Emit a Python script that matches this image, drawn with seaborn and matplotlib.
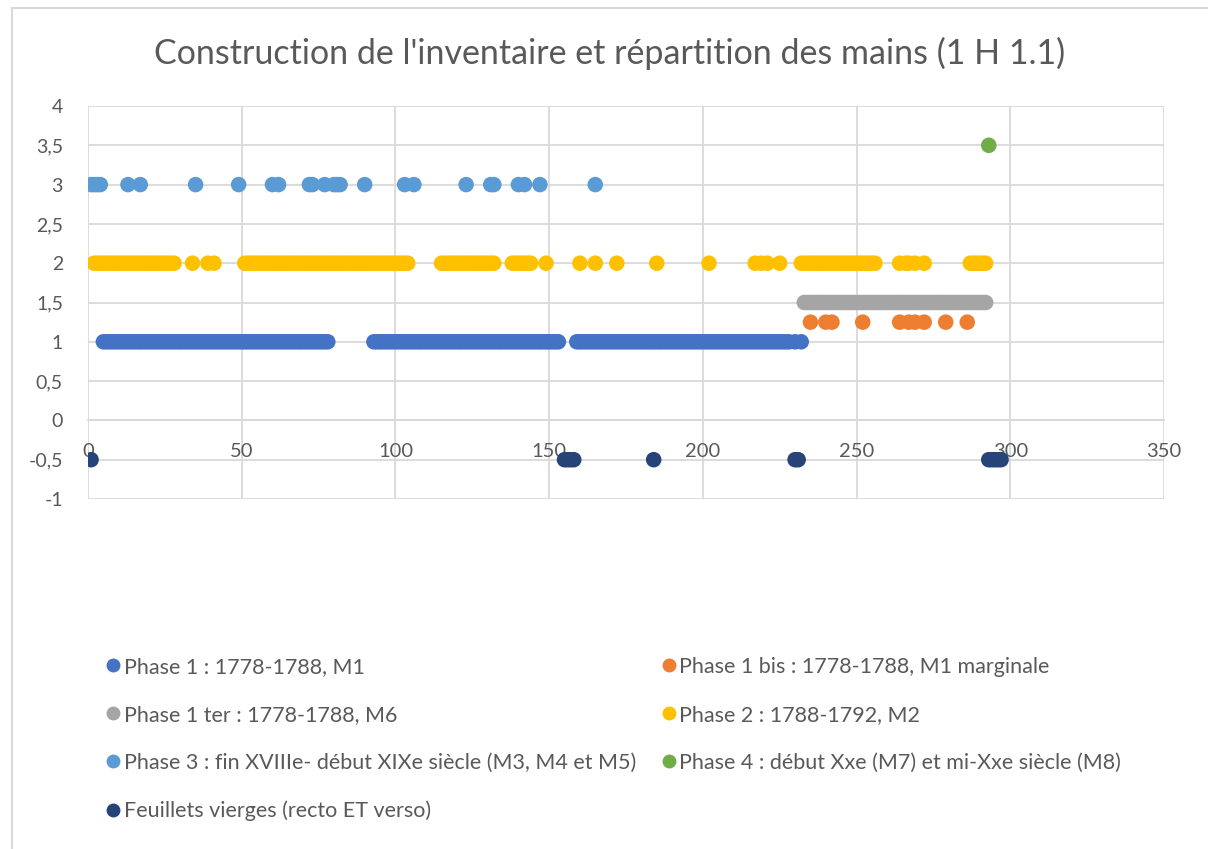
import pandas as pd
import matplotlib.pyplot as plt
from matplotlib.lines import Line2D
from matplotlib.patches import Rectangle
from matplotlib.ticker import FuncFormatter, MultipleLocator
import seaborn as sns

# numéros de folio, par série
phase1 = [5, 6, 7, 8, 9, 10, 11, 12, 13, 14, 15, 16, 17, 18, 19, 20, 21, 22, 23, 24, 25, 26, 27, 28, 29, 30,
          31, 32, 33, 34, 35, 36, 37, 38, 39, 40, 41, 42, 43, 44, 45, 46, 47, 48, 49, 50, 51, 52, 53, 54, 55,
          56, 57, 58, 59, 60, 61, 62, 63, 64, 65, 66, 67, 68, 69, 70, 71, 72, 73, 74, 75, 76, 77, 78,
          93, 94, 95, 96, 97, 98, 99, 100, 101, 102, 103, 104, 105, 106, 107, 108, 109, 110, 111, 112, 113,
          114, 115, 116, 117, 118, 119, 120, 121, 122, 123, 124, 125, 126, 127, 128, 129, 130, 131, 132, 133,
          134, 135, 136, 137, 138, 139, 140, 141, 142, 143, 144, 145, 146, 147, 148, 149, 150, 151, 152, 153,
          159, 160, 161, 162, 163, 164, 165, 166, 167, 168, 169, 170, 171, 172, 173, 174, 175, 176, 177, 178,
          179, 180, 181, 182, 183, 184, 185, 186, 187, 188, 189, 190, 191, 192, 193, 194, 195, 196, 197, 198,
          199, 200, 201, 202, 203, 204, 205, 206, 207, 208, 209, 210, 211, 212, 213, 214, 215, 216, 217, 218,
          219, 220, 221, 222, 223, 224, 225, 226, 227, 228, 230, 232]
phase1_bis = [235, 240, 242, 252, 264, 267, 269, 272, 279, 286]
phase1_ter = [233, 234, 235, 236, 237, 238, 239, 240, 241, 242, 243, 244, 245, 246, 247, 248, 249, 250, 251,
              252, 253, 254, 255, 256, 257, 258, 259, 260, 261, 262, 263, 264, 265, 266, 267, 268, 269, 270,
              271, 272, 273, 274, 275, 276, 277, 278, 279, 280, 281, 282, 283, 284, 285, 286, 287, 288, 289,
              290, 291, 292]
phase2 = [2, 3, 4, 5, 6, 7, 8, 9, 10, 11, 12, 13, 14, 15, 16, 17, 18, 19, 20, 21, 22, 23, 24, 25, 26, 27, 28,
          34, 39, 41,
          51, 52, 53, 54, 55, 56, 57, 58, 59, 60, 61, 62, 63, 64, 65, 66, 67, 68, 69, 70, 71, 72, 73, 74, 75,
          76, 77, 78, 79, 80, 81, 82, 83, 84, 85, 86, 87, 88, 89, 90, 91, 92, 93, 94, 95, 96, 97, 98, 99, 100,
          101, 102, 103, 104,
          115, 116, 117, 118, 119, 120, 121, 122, 123, 124, 125, 126, 127, 128, 129, 130, 131, 132,
          138, 139, 140, 141, 142, 143, 144, 149, 160, 165, 172, 185, 202, 217, 219, 221, 225,
          232, 233, 234, 235, 236, 237, 238, 239, 240, 241, 242, 243, 244, 245, 246, 247, 248, 249, 250, 251,
          252, 253, 254, 255, 256, 264, 266, 267, 269, 272, 287, 288, 289, 290, 291, 292]
phase3 = [1, 2, 3, 4, 13, 17, 35, 49, 60, 62, 72, 73, 77, 80, 81, 82, 90, 103, 106, 123, 131, 132,
          140, 142, 147, 165]
phase4 = [293]
vierges = [1, 155, 156, 157, 158, 184, 230, 231, 293, 294, 295, 296, 297]

series = ["Phase 1 : 1778-1788, M1",
          "Phase 1 bis : 1778-1788, M1 marginale",
          "Phase 1 ter : 1778-1788, M6",
          "Phase 2 : 1788-1792, M2",
          "Phase 3 : fin XVIIIe- début XIXe siècle (M3, M4 et M5)",
          "Phase 4 : début Xxe (M7) et mi-Xxe siècle (M8)",
          "Feuillets vierges (recto ET verso)"]
niveaux = [1, 1.25, 1.5, 2, 3, 3.5, -0.5]
couleurs = ["#4472C4", "#ED7D31", "#A5A5A5", "#FFC000", "#5B9BD5", "#70AD47", "#264478"]
folios = [phase1, phase1_bis, phase1_ter, phase2, phase3, phase4, vierges]

rows = []
for nom, niv, xs in zip(series, niveaux, folios):
    for x in xs:
        rows.append((nom, x, niv))
df = pd.DataFrame(rows, columns=["serie", "folio", "niveau"])

sns.set_theme(style="white")
plt.rcParams['font.family'] = ['Lato', 'DejaVu Sans']
gris = "#595959"
grille = "#D9D9D9"

fig = plt.figure(figsize=(12.08, 8.49), dpi=100)
ax = fig.add_axes([88 / 1208, 350 / 849, 1076 / 1208, 393 / 849])

sns.scatterplot(data=df, x="folio", y="niveau", hue="serie", hue_order=series,
                palette=couleurs, s=125, linewidth=0, ax=ax, legend=False, zorder=3)

ax.set_xlim(0, 350)
ax.set_ylim(-1, 4)
ax.xaxis.set_major_locator(MultipleLocator(50))
ax.yaxis.set_major_locator(MultipleLocator(0.5))
virgule = FuncFormatter(lambda v, p: f"{v:g}".replace(".", ","))
ax.xaxis.set_major_formatter(virgule)
ax.yaxis.set_major_formatter(virgule)
ax.grid(True, color=grille, linewidth=1.3)
ax.set_axisbelow(True)
for s in ["top", "right", "left"]:
    ax.spines[s].set_visible(False)
ax.spines["bottom"].set_position(("data", 0))
ax.spines["bottom"].set_color(grille)
ax.spines["bottom"].set_linewidth(1.3)
ax.tick_params(axis="x", length=0, pad=16, labelsize=14.5, labelcolor=gris)
ax.tick_params(axis="y", length=0, pad=18, labelsize=14, labelcolor=gris)
ax.set_xlabel("")
ax.set_ylabel("")

fig.text(610 / 1208, 1 - 53 / 849, "Construction de l'inventaire et répartition des mains (1 H 1.1)",
         ha="center", va="center", fontsize=24.5, color=gris)

# ordre pour remplir 2 colonnes comme Excel
ordre = [0, 2, 4, 6, 1, 3, 5]
handles = [Line2D([], [], linestyle="none", marker="o", markersize=10, markeredgewidth=0,
                  color=couleurs[i]) for i in ordre]
fig.legend(handles, [series[i] for i in ordre], ncol=2, loc="upper left",
           bbox_to_anchor=(94 / 1208, 1 - 648 / 849), frameon=False, fontsize=15.5,
           labelcolor=gris, handletextpad=0.0, handlelength=1.0, labelspacing=1.3,
           columnspacing=1.0, borderaxespad=0)

fig.patches.append(Rectangle((12 / 1208, -0.1), 1.2, 1 - 8 / 849 + 0.1, transform=fig.transFigure,
                             fill=False, edgecolor=grille, linewidth=1.5))

fig.savefig("out.png", dpi=100)
